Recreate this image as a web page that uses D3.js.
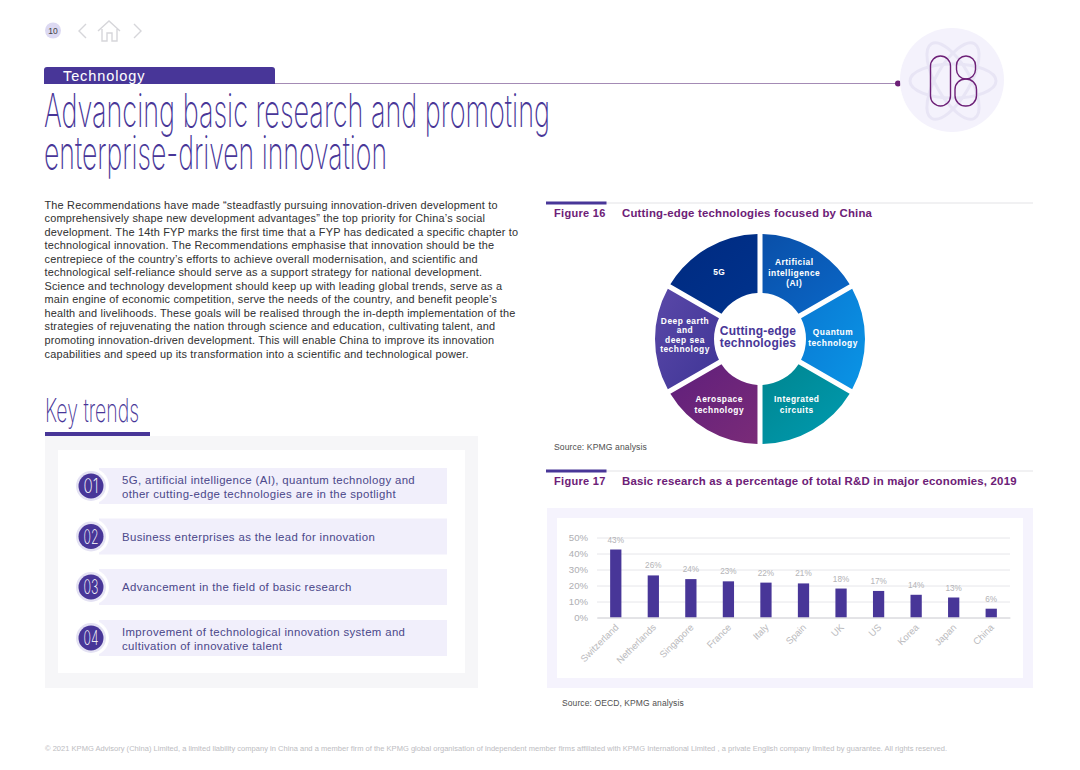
<!DOCTYPE html>
<html>
<head>
<meta charset="utf-8">
<script src="https://cdn.jsdelivr.net/npm/d3@7"></script>
<style>
  html, body { margin: 0; padding: 0; background: #fff; }
  svg { display: block; font-family: "Liberation Sans", Arial, sans-serif; }
</style>
</head>
<body>
<svg id="page" width="1080" height="770"></svg>
<script>
var svg = d3.select('#page');
var purple = '#483698', plum = '#6d2077';

// text helper, one line per array item
function lines(x, y, step, arr, size, fill, weight, spacing) {
  arr.forEach(function(t, i) {
    svg.append('text').attr('x', x).attr('y', y + i * step)
      .attr('font-size', size).attr('fill', fill)
      .attr('font-weight', weight || 'normal')
      .attr('letter-spacing', spacing || 0)
      .text(t);
  });
}

// thin condensed heading, squeezed to the width it has in the picture
function thin(x, y, t, w, size) {
  svg.append('text').attr('x', x).attr('y', y)
    .attr('font-family', 'Inter, Lato').attr('font-weight', 200)
    .attr('font-size', size).attr('fill', purple)
    .attr('textLength', w).attr('lengthAdjust', 'spacingAndGlyphs')
    .text(t);
}

// ---- top nav
svg.append('circle').attr('cx', 53).attr('cy', 30.5).attr('r', 8).attr('fill', '#dcd9f2');
svg.append('text').attr('x', 53).attr('y', 33.5).attr('text-anchor', 'middle')
  .attr('font-size', 8.5).attr('fill', '#444').text('10');
var nav = svg.append('g').attr('fill', 'none').attr('stroke', '#d6d6da').attr('stroke-width', 1.4);
nav.append('path').attr('d', 'M86 24 L79 31 L86 38');
nav.append('path').attr('d', 'M134 24 L141 31 L134 38');
nav.append('path').attr('d', 'M98 31 L109 21 L120 31 M102 29 V41 H107 V33 H112 V41 H117 V29');

// ---- section tab and rule
svg.append('path').attr('d', 'M44 84 V70 Q44 67 47 67 H272 Q275 67 275 70 V84 Z').attr('fill', purple);
svg.append('text').attr('x', 63).attr('y', 80.5).attr('font-size', 14.5).attr('fill', '#fff')
  .attr('letter-spacing', 0.9).text('Technology');
svg.append('line').attr('x1', 275).attr('x2', 898).attr('y1', 83.5).attr('y2', 83.5)
  .attr('stroke', '#a48bb5').attr('stroke-width', 1);
svg.append('circle').attr('cx', 898).attr('cy', 83.5).attr('r', 3).attr('fill', plum);

// ---- chapter badge
svg.append('circle').attr('cx', 952).attr('cy', 80).attr('r', 52).attr('fill', '#f4f2fc');
var atom = svg.append('g').attr('fill', 'none').attr('stroke', '#e8e5f5').attr('stroke-width', 3);
[0, 60, 120].forEach(function(a) {
  atom.append('ellipse').attr('cx', 0).attr('cy', 0).attr('rx', 43).attr('ry', 17)
    .attr('transform', 'translate(953,81) rotate(' + a + ')');
});
svg.append('rect').attr('x', 930.5).attr('y', 56).attr('width', 20).attr('height', 50).attr('rx', 10)
  .attr('fill', 'none').attr('stroke', plum).attr('stroke-width', 1.4);
svg.append('rect').attr('x', 956.5).attr('y', 56).attr('width', 19).attr('height', 23).attr('rx', 9.5)
  .attr('fill', 'none').attr('stroke', plum).attr('stroke-width', 1.4);
svg.append('rect').attr('x', 955).attr('y', 79).attr('width', 21.5).attr('height', 27).attr('rx', 10.5)
  .attr('fill', 'none').attr('stroke', plum).attr('stroke-width', 1.4);

// ---- headings
thin(44, 127, 'Advancing basic research and promoting', 506, 46);
thin(44, 169, 'enterprise-driven innovation', 343, 46);
thin(45, 422, 'Key trends', 94, 33);
svg.append('rect').attr('x', 45).attr('y', 432).attr('width', 105).attr('height', 4.5).attr('fill', purple);

// ---- body copy
lines(44.5, 208.5, 13.55, [
  'The Recommendations have made \u201csteadfastly pursuing innovation-driven development to',
  'comprehensively shape new development advantages\u201d the top priority for China\u2019s social',
  'development. The 14th FYP marks the first time that a FYP has dedicated a specific chapter to',
  'technological innovation. The Recommendations emphasise that innovation should be the',
  'centrepiece of the country\u2019s efforts to achieve overall modernisation, and scientific and',
  'technological self-reliance should serve as a support strategy for national development.',
  'Science and technology development should keep up with leading global trends, serve as a',
  'main engine of economic competition, serve the needs of the country, and benefit people\u2019s',
  'health and livelihoods. These goals will be realised through the in-depth implementation of the',
  'strategies of rejuvenating the nation through science and education, cultivating talent, and',
  'promoting innovation-driven development. This will enable China to improve its innovation',
  'capabilities and speed up its transformation into a scientific and technological power.'
], 10.9, '#333', 'normal', 0.2);

// ---- key trends panel
svg.append('rect').attr('x', 45).attr('y', 436).attr('width', 433).attr('height', 252).attr('fill', '#f6f6f8');
svg.append('rect').attr('x', 58).attr('y', 450).attr('width', 407).attr('height', 223).attr('fill', '#fff');

var trends = [
  { n: '01', y: 468, t: ['5G, artificial intelligence (AI), quantum technology and', 'other cutting-edge technologies are in the spotlight'] },
  { n: '02', y: 518.5, t: ['Business enterprises as the lead for innovation'] },
  { n: '03', y: 569, t: ['Advancement in the field of basic research'] },
  { n: '04', y: 620, t: ['Improvement of technological innovation system and', 'cultivation of innovative talent'] }
];
trends.forEach(function(d) {
  svg.append('rect').attr('x', 99).attr('y', d.y).attr('width', 348).attr('height', 36).attr('fill', '#f1effb');
  svg.append('circle').attr('cx', 91).attr('cy', d.y + 18).attr('r', 18).attr('fill', '#fff');
  svg.append('circle').attr('cx', 91).attr('cy', d.y + 18).attr('r', 15).attr('fill', '#e4e2f3');
  svg.append('circle').attr('cx', 91).attr('cy', d.y + 18).attr('r', 12.5).attr('fill', purple);
  svg.append('text').attr('x', 83.5).attr('y', d.y + 25).attr('text-anchor', 'start')
    .attr('font-family', 'Inter, Lato').attr('font-weight', 200).attr('font-size', 20).attr('fill', '#fff')
    .attr('textLength', 15).attr('lengthAdjust', 'spacingAndGlyphs').text(d.n);
  var y0 = d.t.length == 2 ? d.y + 16 : d.y + 22;
  lines(122, y0, 13.6, d.t, 11.4, '#4d4a8c', 'normal', 0.36);
});

// ---- figure headers
function figHead(y, num, title) {
  svg.append('line').attr('x1', 546).attr('x2', 1033).attr('y1', y).attr('y2', y).attr('stroke', '#e3e3e6');
  svg.append('rect').attr('x', 546).attr('y', y - 1.5).attr('width', 60.5).attr('height', 3).attr('fill', purple);
  lines(554, y + 14, 0, [num], 11, plum, 'bold', 0.3);
  lines(622, y + 14, 0, [title], 11.4, plum, 'bold', 0.2);
}
figHead(203, 'Figure 16', 'Cutting-edge technologies focused by China');
figHead(471, 'Figure 17', 'Basic research as a percentage of total R&D in major economies, 2019');

// ---- figure 16 donut
// dx, dy nudge each label off the slice centroid
var tech = [
  { label: ['Artificial', 'intelligence', '(AI)'], c0: '#0a4fa8', c1: '#0a68c8', dx: -3.5, dy: -1 },
  { label: ['Quantum', 'technology'], c0: '#0a78d2', c1: '#0a95e6', dx: -2.5, dy: -1.5 },
  { label: ['Integrated', 'circuits'], c0: '#00858f', c1: '#009cb2', dx: -1, dy: 0 },
  { label: ['Aerospace', 'technology'], c0: '#5f1f7c', c1: '#7a2b78', dx: -3, dy: 0 },
  { label: ['Deep earth', 'and', 'deep sea', 'technology'], c0: '#5a48a8', c1: '#3f3596', dx: 0.5, dy: -4 },
  { label: ['5G'], c0: '#002a80', c1: '#00338d', dx: -3, dy: -2 }
];
var cx = 760, cy = 339;
var defs = svg.append('defs');
tech.forEach(function(d, i) {
  var g = defs.append('linearGradient').attr('id', 'g' + i).attr('x1', 0).attr('y1', 0).attr('x2', 1).attr('y2', 1);
  g.append('stop').attr('offset', '0%').attr('stop-color', d.c0);
  g.append('stop').attr('offset', '100%').attr('stop-color', d.c1);
});
var pie = d3.pie().sort(null).value(function() { return 1; });
var arc = d3.arc().innerRadius(46).outerRadius(105).padRadius(105).padAngle(0.048);
var donut = svg.append('g').attr('transform', 'translate(' + cx + ',' + cy + ')');
var slices = donut.selectAll('g').data(pie(tech)).enter().append('g');
slices.append('path').attr('d', arc).attr('fill', function(d, i) { return 'url(#g' + i + ')'; });
slices.each(function(d) {
  var c = d3.arc().innerRadius(46).outerRadius(105).centroid(d);
  var n = d.data.label.length;
  var step = n == 4 ? 9.5 : 10.5;
  d3.select(this).selectAll('text').data(d.data.label).enter().append('text')
    .attr('x', c[0] + d.data.dx)
    .attr('y', function(t, i) { return c[1] + d.data.dy + (i - (n - 1) / 2) * step + 3; })
    .attr('text-anchor', 'middle').attr('fill', '#fff').attr('font-weight', 'bold')
    .attr('font-size', 8.4).attr('letter-spacing', 0.5)
    .text(function(t) { return t; });
});
['Cutting-edge', 'technologies'].forEach(function(t, i) {
  donut.append('text').attr('x', -2).attr('y', i * 12 - 4).attr('text-anchor', 'middle')
    .attr('font-size', 12).attr('font-weight', 'bold').attr('fill', purple).attr('letter-spacing', 0.2).text(t);
});
lines(554, 449.5, 0, ['Source: KPMG analysis'], 8.6, '#555', 'normal', 0.1);

// ---- figure 17 bars
var data = [
  { name: 'Switzerland', v: 42.5, label: '43%' },
  { name: 'Netherlands', v: 26.3, label: '26%' },
  { name: 'Singapore', v: 24, label: '24%' },
  { name: 'France', v: 22.6, label: '23%' },
  { name: 'Italy', v: 21.8, label: '22%' },
  { name: 'Spain', v: 21.3, label: '21%' },
  { name: 'UK', v: 18.1, label: '18%' },
  { name: 'US', v: 16.6, label: '17%' },
  { name: 'Korea', v: 14.2, label: '14%' },
  { name: 'Japan', v: 12.5, label: '13%' },
  { name: 'China', v: 5.5, label: '6%' }
];
svg.append('rect').attr('x', 547).attr('y', 508).attr('width', 486).attr('height', 180).attr('fill', '#f5f3fd');
svg.append('rect').attr('x', 557).attr('y', 518).attr('width', 466).attr('height', 160).attr('fill', '#fff');

var x = d3.scaleBand().domain(data.map(function(d) { return d.name; })).range([597, 1010]).paddingInner(0.7).paddingOuter(0.35);
var y = d3.scaleLinear().domain([0, 50]).range([617.5, 537.5]);
var chart = svg.append('g');

var yAxis = d3.axisLeft(y).tickValues([0, 10, 20, 30, 40, 50]).tickSize(-413).tickPadding(9)
  .tickFormat(function(d) { return d + '%'; });
var yg = chart.append('g').attr('transform', 'translate(597,0)').call(yAxis);
yg.select('.domain').remove();
yg.selectAll('line').attr('stroke', '#e6e6ea');
yg.selectAll('text').attr('font-size', 9.6).attr('fill', '#b0b0b4').attr('font-family', 'Liberation Sans');

chart.selectAll('rect.bar').data(data).enter().append('rect').attr('class', 'bar')
  .attr('x', function(d) { return x(d.name); })
  .attr('width', x.bandwidth())
  .attr('y', function(d) { return y(d.v); })
  .attr('height', function(d) { return y(0) - y(d.v); })
  .attr('fill', purple);

var xAxis = d3.axisBottom(x).tickSize(0).tickPadding(8);
var xg = chart.append('g').attr('transform', 'translate(0,617.5)').call(xAxis);
xg.select('.domain').attr('stroke', '#d4d4d8');
xg.selectAll('text').attr('font-size', 9.5).attr('fill', '#bcbcc0').attr('font-family', 'Liberation Sans')
  .attr('text-anchor', 'end').attr('transform', 'rotate(-45) translate(-5,-3)').attr('dy', '0.5em');

chart.selectAll('text.val').data(data).enter().append('text').attr('class', 'val')
  .attr('x', function(d) { return x(d.name) + x.bandwidth() / 2; })
  .attr('y', function(d) { return y(d.v) - 7; })
  .attr('text-anchor', 'middle').attr('font-size', 8.2).attr('fill', '#b5b5b8')
  .text(function(d) { return d.label; });

lines(562, 705.5, 0, ['Source: OECD, KPMG analysis'], 8.5, '#555', 'normal', 0.1);

// ---- footer
lines(45, 750.5, 0, ['\u00a9 2021 KPMG Advisory (China) Limited, a limited liability company in China and a member firm of the KPMG global organisation of independent member firms affiliated with KPMG International Limited , a private English company limited by guarantee. All rights reserved.'], 7.5, '#c0c0c4', 'normal', 0.03);

// hairline stroke in the text's own colour, keeps the small type from colour fringing
svg.selectAll('text').each(function() {
  var t = d3.select(this);
  t.attr('stroke', t.attr('fill')).attr('stroke-width', 0.04);
});
</script>
</body>
</html>
